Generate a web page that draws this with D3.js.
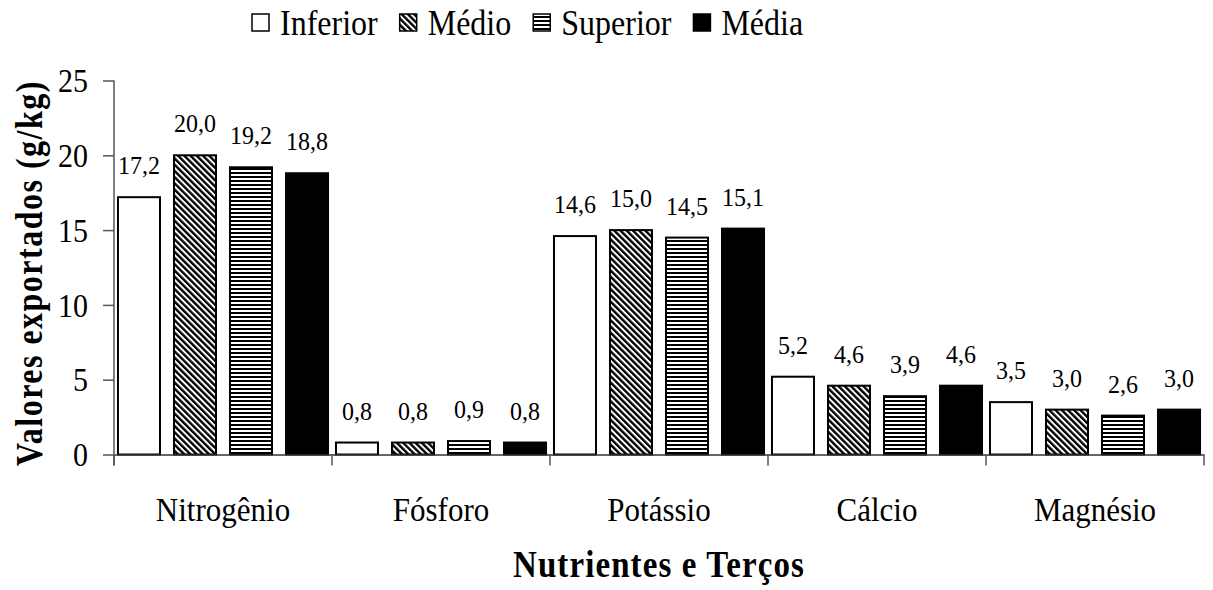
<!DOCTYPE html>
<html>
<head>
<meta charset="utf-8">
<script src="https://cdn.jsdelivr.net/npm/d3@7"></script>
<style>
  body { margin: 0; background: #fff; }
  svg text { font-family: "Liberation Serif", "Times New Roman", Times, serif; }
</style>
</head>
<body>
<svg width="1213" height="590"></svg>
<script>
// Data
var CATEGORIES = ["Nitrogênio", "Fósforo", "Potássio", "Cálcio", "Magnésio"];
var SERIES = ["Inferior", "Médio", "Superior", "Média"];
var INFERIOR = [17.2, 0.8, 14.6, 5.2, 3.5];
var MEDIO = [20.0, 0.8, 15.0, 4.6, 3.0];
var SUPERIOR = [19.2, 0.9, 14.5, 3.9, 2.6];
var MEDIA = [18.8, 0.8, 15.1, 4.6, 3.0];
var Y_TICKS = [0, 5, 10, 15, 20, 25];

var VALUES = [INFERIOR, MEDIO, SUPERIOR, MEDIA];
var FILLS = ["#fff", "url(#diag)", "url(#horiz)", "#000"];

var svg = d3.select("svg");
var plotLeft = 114, plotRight = 1204, plotTop = 80.5, plotBottom = 454.5;
var SY = 1.1; // text in the original is a bit taller than wide

svg.append("rect").attr("width", 1213).attr("height", 590).attr("fill", "#fff");

// Patterns
var defs = svg.append("defs");
var diag = defs.append("pattern")
  .attr("id", "diag")
  .attr("patternUnits", "userSpaceOnUse")
  .attr("width", 4.4).attr("height", 4.4)
  .attr("patternTransform", "rotate(-45)");
diag.append("rect").attr("width", 4.4).attr("height", 4.4).attr("fill", "#fff");
diag.append("rect").attr("width", 2.4).attr("height", 4.4).attr("fill", "#000");

var horiz = defs.append("pattern")
  .attr("id", "horiz")
  .attr("patternUnits", "userSpaceOnUse")
  .attr("width", 4).attr("height", 4);
horiz.append("rect").attr("width", 4).attr("height", 4).attr("fill", "#fff");
horiz.append("rect").attr("width", 4).attr("height", 2).attr("fill", "#000");

// Scales
var x0 = d3.scaleBand().domain(CATEGORIES).range([plotLeft, plotRight]).padding(0);
var x1 = d3.scaleBand().domain(SERIES).range([0, x0.bandwidth()])
  .paddingInner(0.25).paddingOuter(0.071);
var y = d3.scaleLinear().domain([0, 25]).range([plotBottom, plotTop]);

var fmt = function (v) { return d3.format(".1f")(v).replace(".", ","); };

function rows(c, i) {
  return SERIES.map(function (s, k) { return { s: s, k: k, v: VALUES[k][i] }; });
}

// Bars
var groups = svg.append("g").selectAll("g")
  .data(CATEGORIES)
  .enter().append("g")
  .attr("transform", function (c) { return "translate(" + x0(c) + ",0)"; });

groups.selectAll("rect")
  .data(rows)
  .enter().append("rect")
  .attr("x", function (d) { return x1(d.s); })
  .attr("y", function (d) { return y(d.v); })
  .attr("width", x1.bandwidth())
  .attr("height", function (d) { return y(0) - y(d.v); })
  .attr("fill", function (d) { return FILLS[d.k]; })
  .attr("stroke", "#000")
  .attr("stroke-width", 2);

// Value labels
groups.selectAll("text")
  .data(rows)
  .enter().append("text")
  .attr("transform", function (d) {
    return "translate(" + (x1(d.s) + x1.bandwidth() / 2) + "," + (y(d.v) - 23) + ") scale(1,1.08)";
  })
  .attr("text-anchor", "middle")
  .style("font-size", "24px")
  .text(function (d) { return fmt(d.v); });

// Y axis
var yAxis = svg.append("g")
  .attr("transform", "translate(" + plotLeft + ",0)")
  .call(d3.axisLeft(y).tickValues(Y_TICKS).tickSize(11).tickPadding(15).tickSizeOuter(0));
yAxis.attr("font-family", null);
yAxis.select(".domain").attr("stroke", "#555").attr("stroke-width", 1.5)
  .attr("d", "M0," + plotTop + "V" + (plotBottom + 11));
yAxis.selectAll(".tick line").attr("stroke", "#555").attr("stroke-width", 1.5);
yAxis.selectAll(".tick text")
  .attr("fill", "#000")
  .style("font-size", "30px")
  .attr("dy", "0.34em")
  .attr("transform", "scale(1," + SY + ")");

// X axis
var xAxis = svg.append("g")
  .attr("transform", "translate(0," + plotBottom + ")")
  .call(d3.axisBottom(x0).tickSize(0).tickSizeOuter(0));
xAxis.attr("font-family", null);
xAxis.select(".domain").attr("stroke", "#333").attr("stroke-width", 1.5);
xAxis.selectAll(".tick text")
  .attr("fill", "#000")
  .style("font-size", "31px")
  .attr("y", 0).attr("dy", 0)
  .attr("transform", "translate(0,66) scale(1," + SY + ")");

// Boundary ticks between categories
var bounds = CATEGORIES.map(function (c) { return x0(c); }).concat([x0.range()[1]]);
xAxis.selectAll(".bound")
  .data(bounds)
  .enter().append("line")
  .attr("class", "bound")
  .attr("x1", function (d) { return d; })
  .attr("x2", function (d) { return d; })
  .attr("y1", 0).attr("y2", 11)
  .attr("stroke", "#555").attr("stroke-width", 1.5);

// Axis titles
svg.append("text")
  .attr("transform", "translate(" + ((plotLeft + plotRight) / 2) + ",577) scale(1,1.12)")
  .attr("text-anchor", "middle")
  .style("font-size", "33px")
  .style("font-weight", "bold")
  .style("letter-spacing", "1.1px")
  .text("Nutrientes e Terços");

svg.append("text")
  .attr("transform", "translate(42,273) rotate(-90) scale(1,1.2)")
  .attr("text-anchor", "middle")
  .style("font-size", "32px")
  .style("font-weight", "bold")
  .style("letter-spacing", "1.5px")
  .text("Valores exportados (g/kg)");

// Legend
var legend = svg.append("g");
var lx = 252;
SERIES.forEach(function (s, k) {
  legend.append("rect")
    .attr("x", lx).attr("y", 14)
    .attr("width", 17).attr("height", 17)
    .attr("fill", FILLS[k])
    .attr("stroke", "#000").attr("stroke-width", 1.5);
  var t = legend.append("text")
    .attr("transform", "translate(" + (lx + 28) + ",35) scale(1,1.12)")
    .style("font-size", "32px")
    .text(s);
  lx += 28 + t.node().getComputedTextLength() + 22;
});
</script>
</body>
</html>
